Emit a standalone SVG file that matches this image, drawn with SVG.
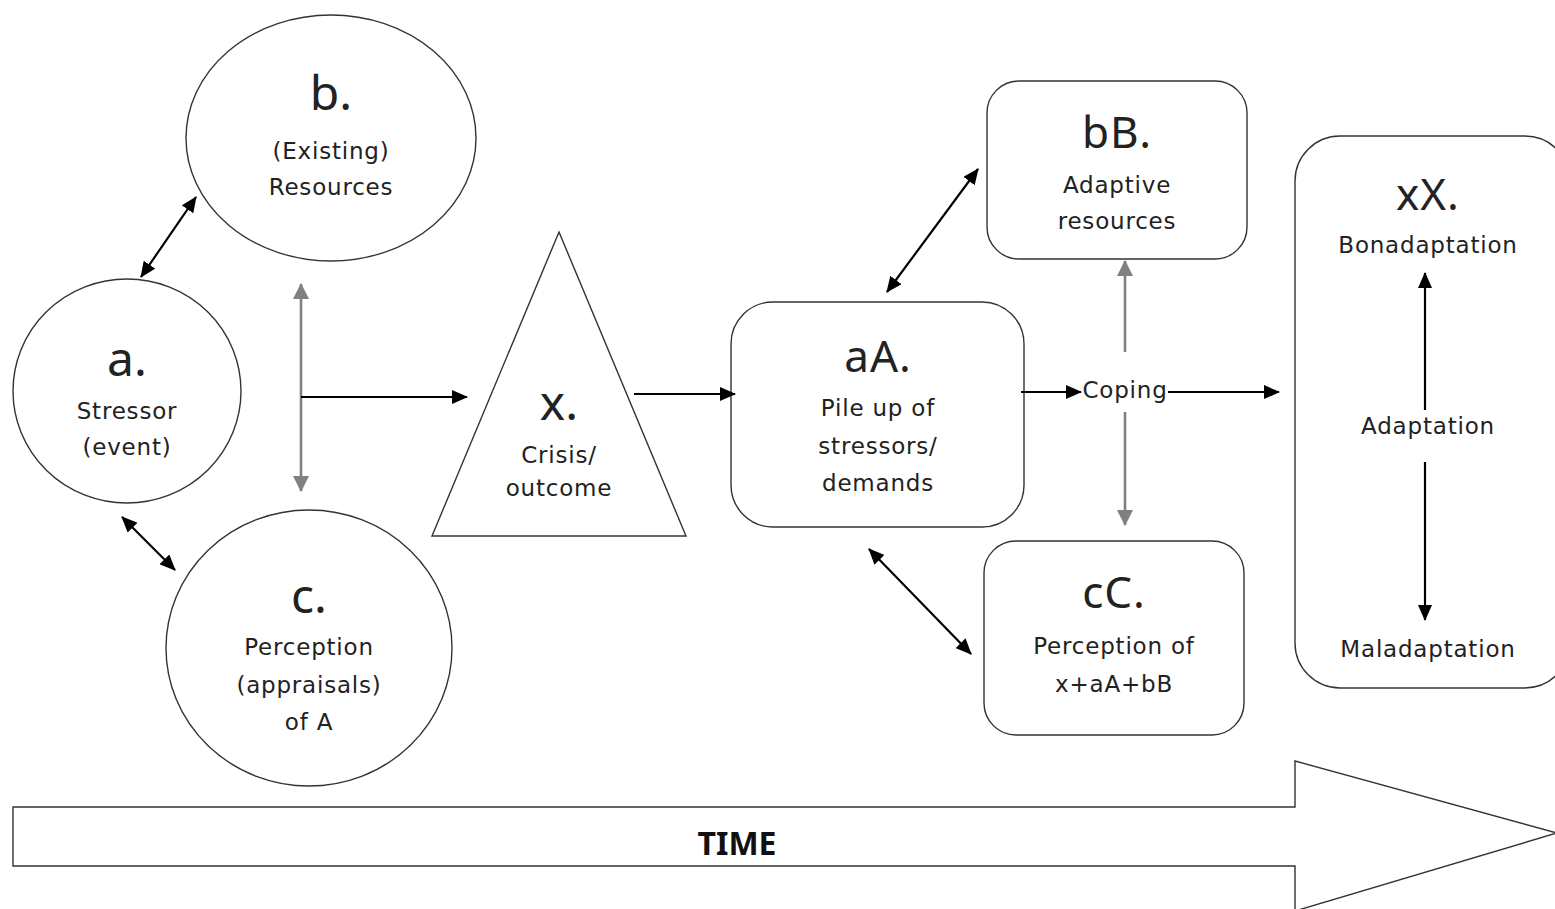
<svg xmlns="http://www.w3.org/2000/svg" width="1555" height="909" viewBox="0 0 1555 909">
<style>
.sh{fill:#fff;stroke:#333;stroke-width:1.4}
.t{font-family:"Noto Sans","Open Sans",sans-serif;fill:#222;text-anchor:middle}
.big{font-size:48px}
.mid{font-size:44px;letter-spacing:1px}
.sm{font-family:"DejaVu Sans","Noto Sans",sans-serif;font-size:23px;letter-spacing:0.8px}
.blk{stroke:#000;stroke-width:2.2;fill:none}
.gry{stroke:#808080;stroke-width:2.6;fill:none}
</style>
<defs>
<marker id="ab" markerUnits="userSpaceOnUse" viewBox="0 0 16 14" refX="15" refY="7" markerWidth="16" markerHeight="14" orient="auto-start-reverse"><path d="M0,0 L16,7 L0,14 Z" fill="#000"/></marker>
<marker id="ag" markerUnits="userSpaceOnUse" viewBox="0 0 16 16" refX="15" refY="8" markerWidth="16" markerHeight="16" orient="auto-start-reverse"><path d="M0,0 L16,8 L0,16 Z" fill="#808080"/></marker>
</defs>
<rect width="1555" height="909" fill="#fff"/>
<g id="time">
<path class="sh" d="M13,807 H1295 V761 L1557,833 L1295,911 V866 H13 Z"/>
<text class="t" x="737" y="855" style="font-size:32px;font-weight:bold;fill:#111">TIME</text>
</g>
<g id="node-b">
<ellipse class="sh" cx="331" cy="138" rx="145" ry="123"/>
<text class="t big" x="331" y="110">b.</text>
<text class="t sm" x="331" y="159">(Existing)</text>
<text class="t sm" x="331" y="195">Resources</text>
</g>
<g id="node-a">
<ellipse class="sh" cx="127" cy="391" rx="114" ry="112"/>
<text class="t big" x="127" y="376">a.</text>
<text class="t sm" x="127" y="419">Stressor</text>
<text class="t sm" x="127" y="455">(event)</text>
</g>
<g id="node-c">
<ellipse class="sh" cx="309" cy="648" rx="143" ry="138"/>
<text class="t big" x="309" y="613">c.</text>
<text class="t sm" x="309" y="655">Perception</text>
<text class="t sm" x="309" y="693">(appraisals)</text>
<text class="t sm" x="309" y="730">of A</text>
</g>
<g id="node-x">
<path class="sh" d="M559,232 L686,536 L432,536 Z"/>
<text class="t big" x="559" y="420">x.</text>
<text class="t sm" x="559" y="463">Crisis/</text>
<text class="t sm" x="559" y="496">outcome</text>
</g>
<g id="node-aA">
<rect class="sh" x="731" y="302" width="293" height="225" rx="42"/>
<text class="t mid" x="878" y="372">aA.</text>
<text class="t sm" x="878" y="416">Pile up of</text>
<text class="t sm" x="878" y="454">stressors/</text>
<text class="t sm" x="878" y="491">demands</text>
</g>
<g id="node-bB">
<rect class="sh" x="987" y="81" width="260" height="178" rx="32"/>
<text class="t mid" x="1117" y="148">bB.</text>
<text class="t sm" x="1117" y="193">Adaptive</text>
<text class="t sm" x="1117" y="229">resources</text>
</g>
<g id="node-cC">
<rect class="sh" x="984" y="541" width="260" height="194" rx="32"/>
<text class="t mid" x="1114" y="608">cC.</text>
<text class="t sm" x="1114" y="654">Perception of</text>
<text class="t sm" x="1114" y="692">x+aA+bB</text>
</g>
<g id="node-xX">
<rect class="sh" x="1295" y="136" width="275" height="552" rx="45"/>
<text class="t mid" x="1428" y="210">xX.</text>
<text class="t sm" x="1428" y="253">Bonadaptation</text>
<text class="t sm" x="1428" y="434">Adaptation</text>
<text class="t sm" x="1428" y="657">Maladaptation</text>
</g>
<g id="coping">
<text class="t sm" x="1125" y="398">Coping</text>
</g>
<g id="connectors">
<line class="blk" x1="141" y1="277" x2="196" y2="197" marker-start="url(#ab)" marker-end="url(#ab)"/>
<line class="blk" x1="122" y1="517" x2="175" y2="570" marker-start="url(#ab)" marker-end="url(#ab)"/>
<line class="gry" x1="301" y1="284" x2="301" y2="491" marker-start="url(#ag)" marker-end="url(#ag)"/>
<line class="blk" x1="301" y1="397" x2="467" y2="397" marker-end="url(#ab)"/>
<line class="blk" x1="634" y1="394" x2="735" y2="394" marker-end="url(#ab)"/>
<line class="blk" x1="887" y1="292" x2="978" y2="169" marker-start="url(#ab)" marker-end="url(#ab)"/>
<line class="blk" x1="869" y1="549" x2="971" y2="654" marker-start="url(#ab)" marker-end="url(#ab)"/>
<line class="blk" x1="1021" y1="392" x2="1081" y2="392" marker-end="url(#ab)"/>
<line class="blk" x1="1168" y1="392" x2="1279" y2="392" marker-end="url(#ab)"/>
<line class="gry" x1="1125" y1="352" x2="1125" y2="261" marker-end="url(#ag)"/>
<line class="gry" x1="1125" y1="412" x2="1125" y2="525" marker-end="url(#ag)"/>
<line class="blk" x1="1425" y1="410" x2="1425" y2="273" marker-end="url(#ab)"/>
<line class="blk" x1="1425" y1="462" x2="1425" y2="620" marker-end="url(#ab)"/>
</g>
</svg>
